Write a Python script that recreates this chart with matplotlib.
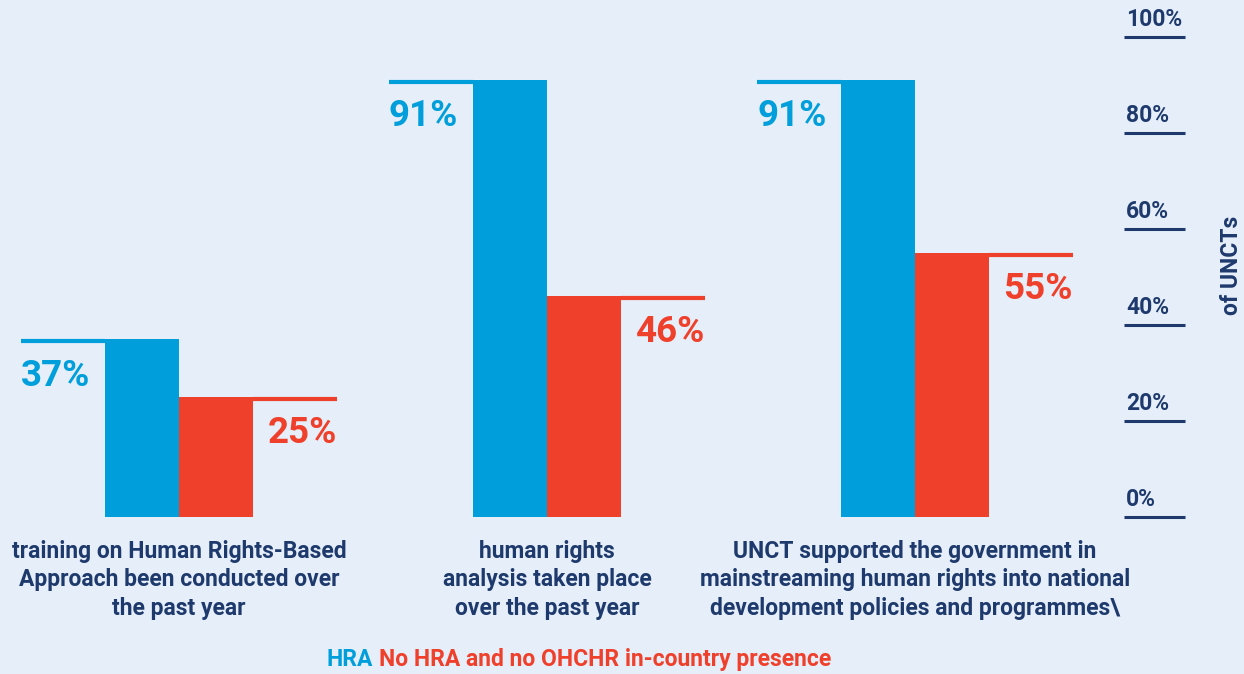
import matplotlib.pyplot as plt
import matplotlib.transforms as mtransforms
import numpy as np

plt.rcParams['font.family'] = ['Roboto', 'DejaVu Sans']

categories = ['training on Human Rights-Based\nApproach been conducted over\nthe past year',
              'human rights\nanalysis taken place\nover the past year',
              'UNCT supported the government in\nmainstreaming human rights into national\ndevelopment policies and programmes\\']
hra = [37, 91, 91]
no_hra = [25, 46, 55]
yticks = [0, 20, 40, 60, 80, 100]

BG = '#e6eef9'
BLUE = '#009fdb'
RED = '#ef402b'
NAVY = '#1e3a6d'
FS = 16.5

fig = plt.figure(figsize=(12.44, 6.74), dpi=100, facecolor=BG)
ax = fig.add_axes([0, 157 / 674, 1, 480 / 674])
ax.set_facecolor(BG)
ax.set_xlim(-179 / 368, (1244 - 179) / 368)
ax.set_ylim(0, 100)
ax.axis('off')

w = 74 / 368
ext = 84 / 368
x = np.arange(len(categories))

ax.bar(x - w / 2, hra, width=w, color=BLUE, zorder=2)
ax.bar(x + w / 2, no_hra, width=w, color=RED, zorder=2)

# marker lines sit just under the value, top edge flush with the bar top
down = mtransforms.offset_copy(ax.transData, fig=fig, x=0, y=-2, units='dots')

for i in range(len(categories)):
    left = x[i] - w
    ax.plot([left - ext, left], [hra[i], hra[i]], color=BLUE, lw=3, solid_capstyle='butt',
            clip_on=False, transform=down)
    ax.text(left - ext, hra[i] - 3.8, f'{hra[i]}%', color=BLUE, fontsize=26.5, fontweight='bold',
            ha='left', va='top')
    right = x[i] + w
    ax.plot([right, right + ext], [no_hra[i], no_hra[i]], color=RED, lw=3, solid_capstyle='butt',
            clip_on=False, transform=down)
    ax.text(right + ext, no_hra[i] - 3.8, f'{no_hra[i]}%', color=RED, fontsize=26.5, fontweight='bold',
            ha='right', va='top')
    ax.text(x[i], -4.8, categories[i], color=NAVY, fontsize=FS, fontweight='bold',
            ha='center', va='top', linespacing=1.3, clip_on=False)

# right-hand scale
tx0 = (1124 - 179) / 368
tx1 = (1185 - 179) / 368
for t in yticks:
    ax.plot([tx0, tx1], [t, t], color=NAVY, lw=2.2, solid_capstyle='butt', clip_on=False)
    ax.text(tx0 + 2 / 368, t + 1.3, f'{t}%', color=NAVY, fontsize=FS, fontweight='bold',
            ha='left', va='bottom', clip_on=False)

fig.text(1232 / 1244, 1 - 265 / 674, 'of UNCTs', color=NAVY, fontsize=FS, fontweight='bold',
         rotation=90, ha='center', va='center')

# legend as coloured text, kept just inside the bottom edge
t1 = fig.text(327 / 1244, 3 / 674, 'HRA', color=BLUE, fontsize=FS, fontweight='bold',
              ha='left', va='bottom')
ax.annotate('No HRA and no OHCHR in-country presence', xy=(1, 0), xycoords=t1,
            xytext=(4, 0), textcoords='offset points', color=RED, fontsize=FS,
            fontweight='bold', ha='left', va='bottom', annotation_clip=False)

fig.savefig('out.png', dpi=100, facecolor=BG)
